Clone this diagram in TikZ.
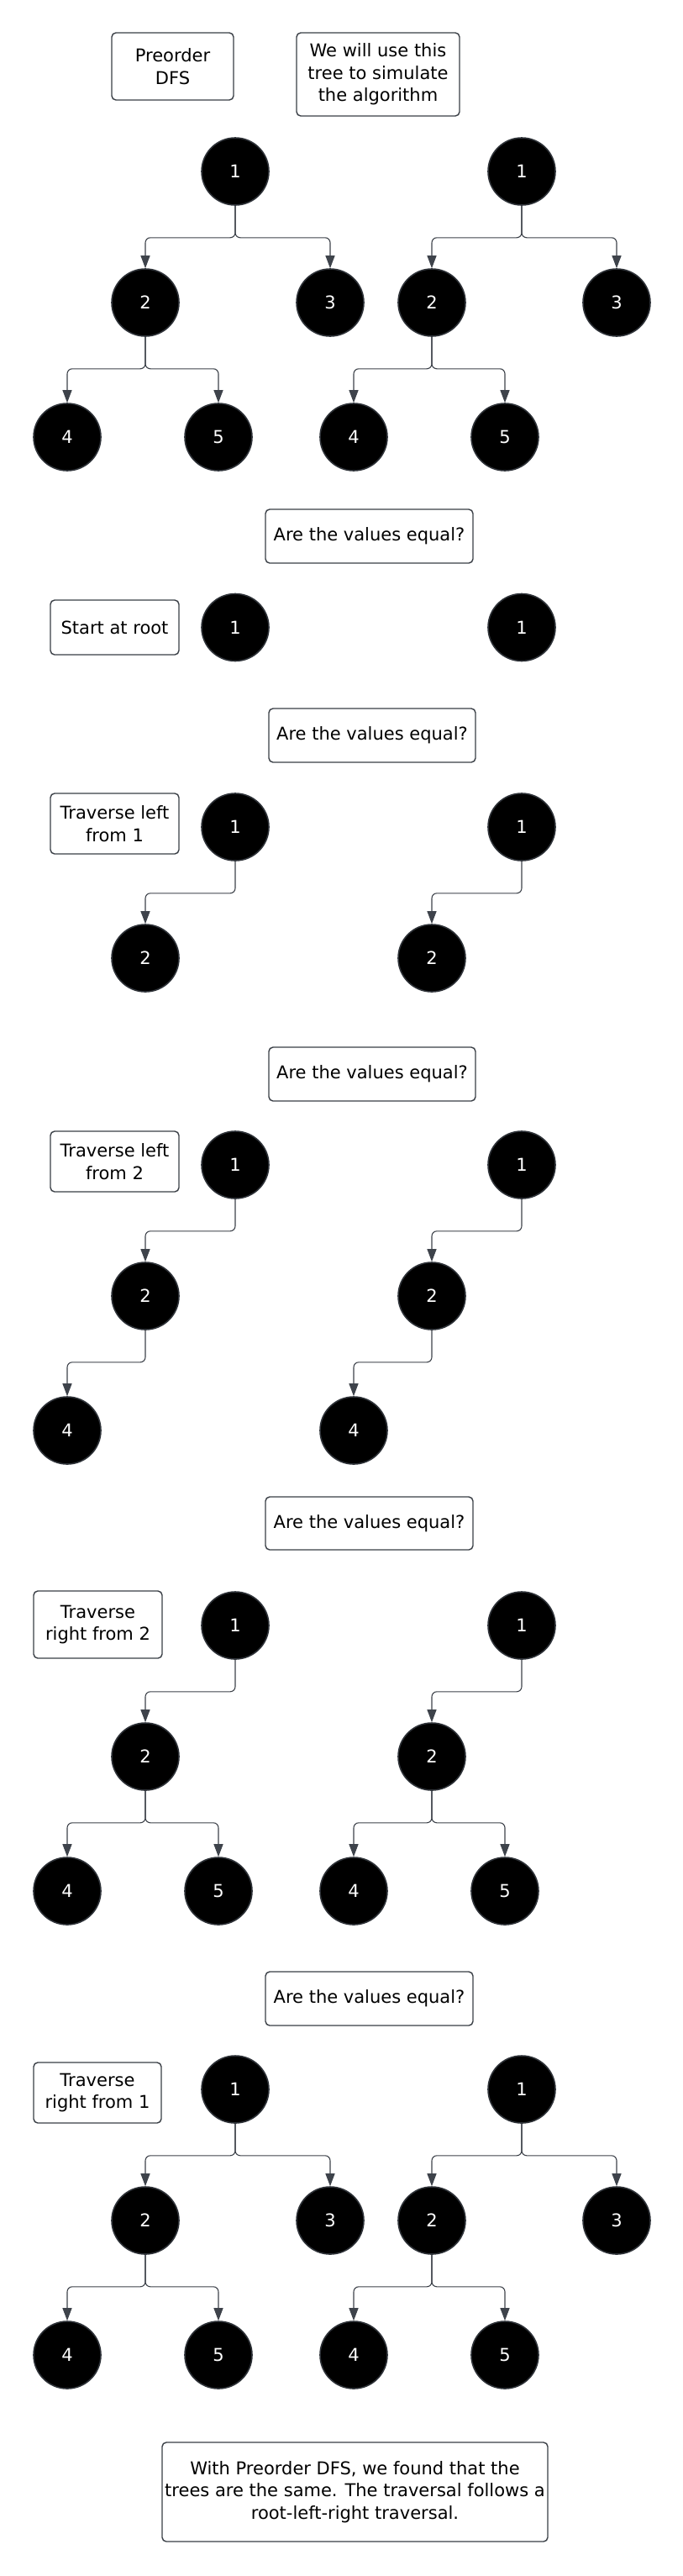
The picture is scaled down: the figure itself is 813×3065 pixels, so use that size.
\documentclass[tikz,border=0pt]{standalone}
\usepackage{fontspec}
\setmainfont{DejaVu Sans}
\usetikzlibrary{arrows.meta}
\definecolor{edgec}{HTML}{3E434B}
\definecolor{ringc}{HTML}{2E3238}
\definecolor{boxc}{HTML}{3A3F46}
\newcommand\stree[4]{%
  \node[tn] (#1r) at (280+#2,#3) {1};
  \ifnum#4>1
    \node[tn] (#1b) at (173+#2,#3+156) {2};
    \draw[edge] (#1r.south) -- ++(0,38) -| (#1b.north);
  \fi
  \ifnum#4>2
    \node[tn] (#1d) at (80+#2,#3+316) {4};
    \draw[edge] (#1b.south) -- ++(0,38) -| (#1d.north);
  \fi
  \ifnum#4>3
    \node[tn] (#1e) at (260+#2,#3+316) {5};
    \draw[edge] (#1b.south) -- ++(0,38) -| (#1e.north);
  \fi
  \ifnum#4>4
    \node[tn] (#1c) at (393+#2,#3+156) {3};
    \draw[edge] (#1r.south) -- ++(0,38) -| (#1c.north);
  \fi
}
\begin{document}
\begin{tikzpicture}[x=1pt,y=-1pt,
  tn/.style={circle, fill=black, draw=ringc, line width=1.6pt, minimum size=80pt,
    inner sep=0pt, text=white, font=\fontsize{21}{26.5}\selectfont},
  lbl/.style={draw=boxc, line width=1.4pt, rounded corners=5pt, fill=white,
    align=center, inner sep=0pt, font=\fontsize{21}{26.5}\selectfont},
  edge/.style={draw=edgec, line width=1.1pt, rounded corners=6pt,
    -{Triangle[length=15pt,width=11pt]}}
]
\useasboundingbox (0,0) rectangle (813,3065);
\fill[white] (0,0) rectangle (813,3065);

% stage 0: full trees
\node[lbl, minimum width=145pt, minimum height=80pt] (intro) at (205.5,79) {Preorder\\DFS};
\node[lbl, minimum width=194pt, minimum height=99pt] (sim) at (450,88.5) {We will use this\\tree to simulate\\the algorithm};
\stree{aL}{0}{204}{5}
\stree{aR}{341}{204}{5}

% stage 1
\node[lbl, minimum width=247pt, minimum height=64pt] (q1) at (439.5,638) {Are the values equal?};
\node[lbl, minimum width=153pt, minimum height=65pt] (s1) at (136.5,746.5) {Start at root};
\stree{bL}{0}{746.5}{1}
\stree{bR}{341}{746.5}{1}

% stage 2
\node[lbl, minimum width=246pt, minimum height=64pt] (q2) at (443,875) {Are the values equal?};
\node[lbl, minimum width=153pt, minimum height=72pt] (s2) at (136.5,980) {Traverse left\\from 1};
\stree{cL}{0}{984}{2}
\stree{cR}{341}{984}{2}

% stage 3
\node[lbl, minimum width=246pt, minimum height=64pt] (q3) at (443,1278) {Are the values equal?};
\node[lbl, minimum width=153pt, minimum height=72pt] (s3) at (136.5,1382) {Traverse left\\from 2};
\stree{dL}{0}{1386}{3}
\stree{dR}{341}{1386}{3}

% stage 4
\node[lbl, minimum width=247pt, minimum height=63pt] (q4) at (439.5,1812.5) {Are the values equal?};
\node[lbl, minimum width=153pt, minimum height=80pt] (s4) at (116.5,1933) {Traverse\\right from 2};
\stree{eL}{0}{1934}{4}
\stree{eR}{341}{1934}{4}

% stage 5
\node[lbl, minimum width=247pt, minimum height=64pt] (q5) at (439.5,2378) {Are the values equal?};
\node[lbl, minimum width=152pt, minimum height=72pt] (s5) at (116,2490) {Traverse\\right from 1};
\stree{fL}{0}{2486}{5}
\stree{fR}{341}{2486}{5}

% conclusion
\node[lbl, minimum width=459pt, minimum height=118pt] (concl) at (422.5,2965)
  {With Preorder DFS, we found that the\\trees are the same. The traversal follows a\\root-left-right traversal.};
\end{tikzpicture}
\end{document}
